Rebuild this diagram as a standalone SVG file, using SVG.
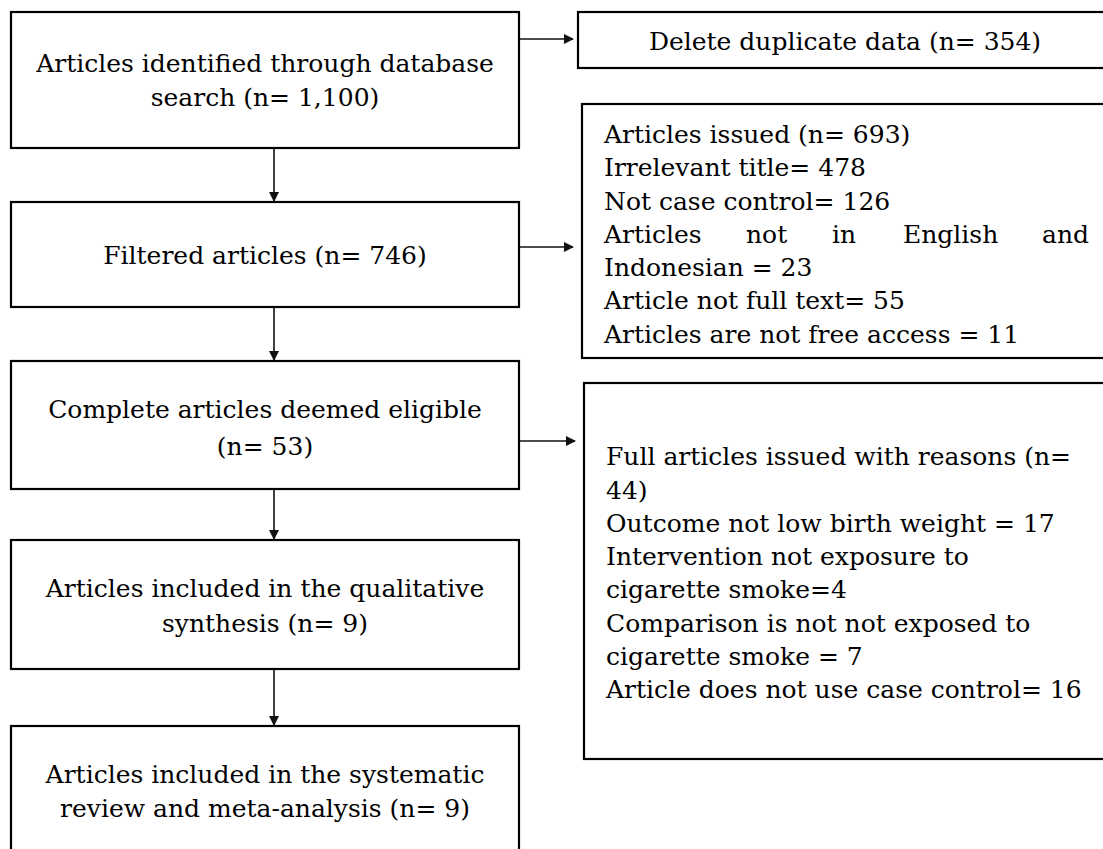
<svg xmlns="http://www.w3.org/2000/svg" width="1103" height="849" viewBox="0 0 1103 849">
<style>
.box{fill:#fff;stroke:#000;stroke-width:2.2}
.t{font-family:"DejaVu Serif","Liberation Serif",serif;font-size:25px;fill:#000}
.c{text-anchor:middle}
.conn{stroke:#111;stroke-width:1.6;fill:none}
</style>
<defs>
<marker id="ah" markerWidth="10" markerHeight="10" refX="9" refY="5" orient="auto" markerUnits="userSpaceOnUse" viewBox="0 0 10 10">
<path d="M0,0 L10,5 L0,10 Z" fill="#111"/>
</marker>
</defs>
<rect width="1103" height="849" fill="#fff"/>
<g id="connectors">
<line class="conn" x1="274" y1="149" x2="274" y2="201" marker-end="url(#ah)"/>
<line class="conn" x1="274" y1="308" x2="274" y2="360" marker-end="url(#ah)"/>
<line class="conn" x1="274" y1="490" x2="274" y2="539" marker-end="url(#ah)"/>
<line class="conn" x1="274" y1="670" x2="274" y2="725" marker-end="url(#ah)"/>
<line class="conn" x1="520" y1="39" x2="573" y2="39" marker-end="url(#ah)"/>
<line class="conn" x1="520" y1="247" x2="573" y2="247" marker-end="url(#ah)"/>
<line class="conn" x1="520" y1="441" x2="575" y2="441" marker-end="url(#ah)"/>
</g>
<g id="n1">
<rect class="box" x="11" y="12" width="508" height="136"/>
<text class="t c" x="265" y="72">Articles identified through database</text>
<text class="t c" x="265" y="106">search (n= 1,100)</text>
</g>
<g id="n2">
<rect class="box" x="11" y="202" width="508" height="105"/>
<text class="t c" x="265" y="264">Filtered articles (n= 746)</text>
</g>
<g id="n3">
<rect class="box" x="11" y="361" width="508" height="128"/>
<text class="t c" x="265" y="418">Complete articles deemed eligible</text>
<text class="t c" x="265" y="455">(n= 53)</text>
</g>
<g id="n4">
<rect class="box" x="11" y="540" width="508" height="129"/>
<text class="t c" x="265" y="597">Articles included in the qualitative</text>
<text class="t c" x="265" y="632">synthesis (n= 9)</text>
</g>
<g id="n5">
<rect class="box" x="11" y="726" width="508" height="140"/>
<text class="t c" x="265" y="783">Articles included in the systematic</text>
<text class="t c" x="265" y="817">review and meta-analysis (n= 9)</text>
</g>
<g id="r1">
<rect class="box" x="578" y="12" width="540" height="56"/>
<text class="t c" x="845" y="50">Delete duplicate data (n= 354)</text>
</g>
<g id="r2">
<rect class="box" x="582" y="104" width="540" height="254"/>
<text class="t" x="604" y="143">Articles issued (n= 693)</text>
<text class="t" x="604" y="176">Irrelevant title= 478</text>
<text class="t" x="604" y="210">Not case control= 126</text>
<text class="t" y="243"><tspan x="604">Articles</tspan><tspan x="746">not</tspan><tspan x="832">in</tspan><tspan x="903">English</tspan><tspan x="1042">and</tspan></text>
<text class="t" x="604" y="276">Indonesian = 23</text>
<text class="t" x="604" y="309">Article not full text= 55</text>
<text class="t" x="604" y="343">Articles are not free access = 11</text>
</g>
<g id="r3">
<rect class="box" x="584" y="383" width="540" height="376"/>
<text class="t" x="606" y="465">Full articles issued with reasons (n=</text>
<text class="t" x="606" y="499">44)</text>
<text class="t" x="606" y="532">Outcome not low birth weight = 17</text>
<text class="t" x="606" y="565">Intervention not exposure to</text>
<text class="t" x="606" y="598">cigarette smoke=4</text>
<text class="t" x="606" y="632">Comparison is not not exposed to</text>
<text class="t" x="606" y="665">cigarette smoke = 7</text>
<text class="t" x="606" y="698">Article does not use case control= 16</text>
</g>
</svg>
